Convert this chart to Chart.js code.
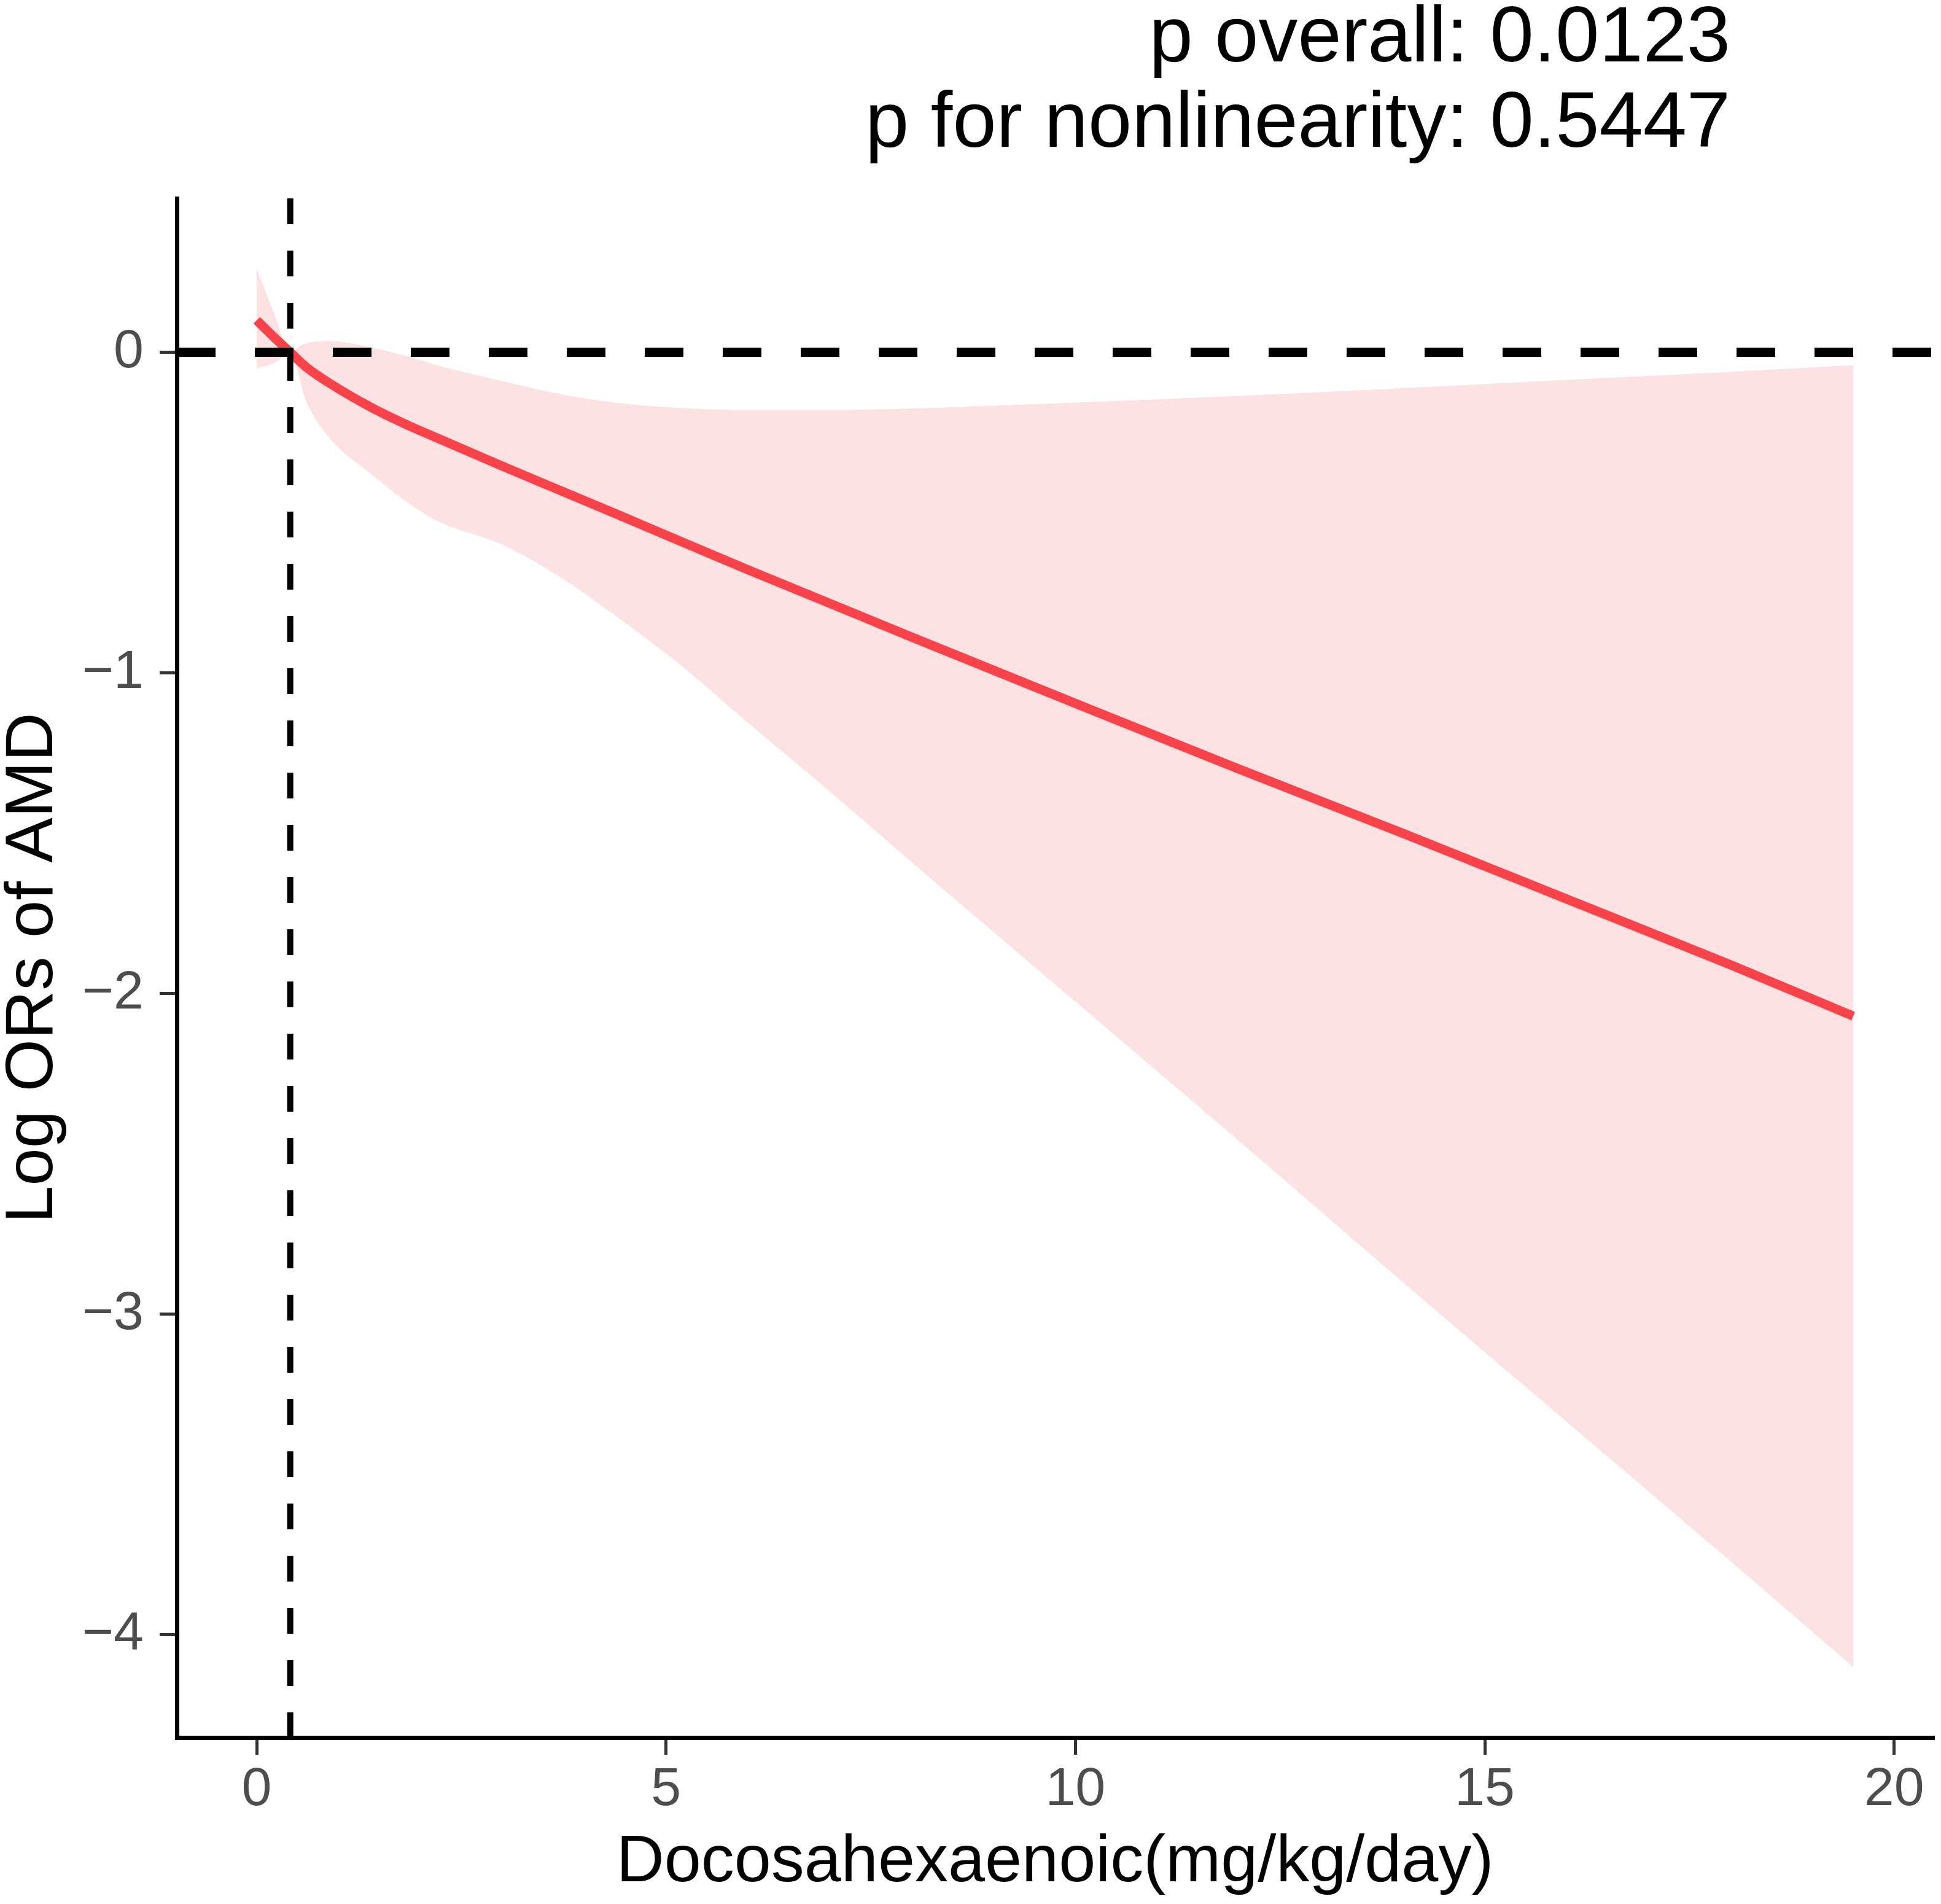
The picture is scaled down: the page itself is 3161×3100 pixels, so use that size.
<!DOCTYPE html>
<html>
<head>
<meta charset="utf-8">
<script src="https://cdn.jsdelivr.net/npm/chart.js@4.4.1/dist/chart.umd.min.js"></script>
<style>
    html, body { margin: 0; padding: 0; background: #fff; }
    #rcsChart { display: block; }
</style>
</head>
<body>
<canvas id="rcsChart" width="3161" height="3100"></canvas>
<script>
// DHA intake (mg/kg/day) vs fitted log OR of AMD, with 95% band
const doseX   = [0, 0.2, 0.41, 0.6, 0.9, 1.4, 1.8, 2.2, 3, 3.7, 4.4, 5.2, 6, 7, 8, 10, 12, 14, 16, 18, 19.5];
const logOR   = [0.10, 0.05, 0.0, -0.045, -0.098, -0.172, -0.222, -0.267, -0.355, -0.43, -0.505, -0.592, -0.678, -0.783, -0.888, -1.095, -1.30, -1.50, -1.705, -1.91, -2.07];
const upperCI = [0.26, 0.13, 0.005, 0.028, 0.035, 0.015, -0.01, -0.04, -0.09, -0.13, -0.158, -0.174, -0.18, -0.18, -0.175, -0.157, -0.136, -0.112, -0.086, -0.061, -0.04];
const lowerCI = [-0.05, -0.035, -0.005, -0.15, -0.27, -0.38, -0.46, -0.525, -0.60, -0.70, -0.825, -0.98, -1.155, -1.37, -1.59, -2.025, -2.46, -2.90, -3.335, -3.77, -4.10];

const xTicks = [0, 5, 10, 15, 20];
const yTicks = [0, -1, -2, -3, -4];
const xLimits = [-0.975, 20.475];
const yLimits = [-4.32, 0.48];
const refDose = 0.41;
const refLogOR = 0;
const pLabels = ['p overall: 0.0123', 'p for nonlinearity: 0.5447'];
const pLabelX = 18;

const FONT = '"Liberation Sans", Arial, sans-serif';
Chart.defaults.font.family = FONT;

const pts = ys => doseX.map((x, i) => ({ x, y: ys[i] }));

const pValueText = {
    id: 'pValueText',
    afterDraw(chart) {
        const ctx = chart.ctx;
        const x = chart.scales.x.getPixelForValue(pLabelX);
        ctx.save();
        ctx.font = `128px ${FONT}`;
        ctx.fillStyle = '#000';
        ctx.textAlign = 'right';
        ctx.textBaseline = 'alphabetic';
        pLabels.forEach((t, i) => ctx.fillText(t, x, 100 + i * 139));
        ctx.restore();
    }
};

new Chart(document.getElementById('rcsChart'), {
    type: 'line',
    data: {
        datasets: [
            {
                label: 'ref dose',
                data: [{ x: refDose, y: yLimits[1] }, { x: refDose, y: yLimits[0] }],
                borderColor: '#000', borderWidth: 10, borderDash: [42, 43],
                pointRadius: 0, order: 0
            },
            {
                label: 'ref OR',
                data: [{ x: xLimits[0], y: refLogOR }, { x: xLimits[1], y: refLogOR }],
                borderColor: '#000', borderWidth: 15, borderDash: [63, 64],
                pointRadius: 0, order: 0
            },
            {
                label: 'log OR',
                data: pts(logOR),
                borderColor: '#F9434B', borderWidth: 15,
                cubicInterpolationMode: 'monotone',
                pointRadius: 0, order: 1
            },
            {
                label: 'upper',
                data: pts(upperCI),
                borderWidth: 0, borderColor: 'rgba(0,0,0,0)',
                backgroundColor: '#FDE2E4',
                fill: '+1',
                cubicInterpolationMode: 'monotone',
                pointRadius: 0, order: 2
            },
            {
                label: 'lower',
                data: pts(lowerCI),
                borderWidth: 0, borderColor: 'rgba(0,0,0,0)',
                fill: false,
                cubicInterpolationMode: 'monotone',
                pointRadius: 0, order: 3
            }
        ]
    },
    options: {
        responsive: false,
        animation: false,
        devicePixelRatio: 1,
        layout: { padding: { top: 323, right: 13, left: 0, bottom: 0 } },
        plugins: { legend: { display: false }, tooltip: { enabled: false } },
        scales: {
            x: {
                type: 'linear',
                min: xLimits[0], max: xLimits[1],
                afterBuildTicks: s => { s.ticks = xTicks.map(v => ({ value: v })); },
                afterFit: s => { s.height = 271; },
                grid: { drawOnChartArea: false, tickLength: 28, color: '#333', tickColor: '#333', lineWidth: 5, tickWidth: 5 },
                border: { display: true, color: '#000', width: 7 },
                ticks: { color: '#4D4D4D', font: { size: 88, lineHeight: 1 }, padding: 14, maxRotation: 0, autoSkip: false },
                title: { display: true, text: 'Docosahexaenoic(mg/kg/day)', color: '#000',
                         font: { size: 108, lineHeight: 1 }, padding: { top: 0, bottom: 13 } }
            },
            y: {
                type: 'linear',
                min: yLimits[0], max: yLimits[1],
                afterBuildTicks: s => { s.ticks = yTicks.map(v => ({ value: v })); },
                afterFit: s => { s.width = 288; },
                grid: { drawOnChartArea: false, tickLength: 28, color: '#333', tickColor: '#333', lineWidth: 5, tickWidth: 5 },
                border: { display: true, color: '#000', width: 7 },
                ticks: {
                    color: '#4D4D4D', font: { size: 88, lineHeight: 1 }, padding: 26, autoSkip: false,
                    callback: v => v < 0 ? '\u2212' + Math.abs(v) : String(v)
                },
                title: { display: true, text: 'Log ORs of AMD', color: '#000',
                         font: { size: 110, lineHeight: 1 }, padding: { top: 0, bottom: 0 } }
            }
        }
    },
    plugins: [pValueText]
});
</script>
</body>
</html>
